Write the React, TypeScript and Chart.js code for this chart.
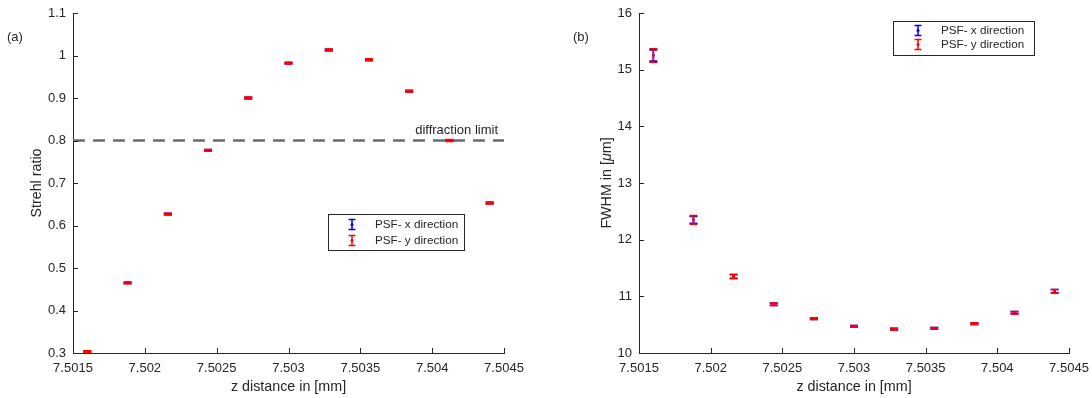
import React, { useEffect, useRef } from "react";
import { Chart, registerables } from "chart.js";

Chart.register(...registerables);

// ---------- data ----------
const zPositions = [7.5016, 7.50188, 7.50216, 7.50244, 7.50272, 7.503, 7.50328, 7.50356, 7.50384, 7.50412, 7.5044];

const strehlX = [0.303, 0.465, 0.627, 0.777, 0.9, 0.982, 1.013, 0.99, 0.916, 0.8, 0.653];
const strehlXErr = [0.0015, 0.0015, 0.0015, 0.0015, 0.0015, 0.0015, 0.0015, 0.0015, 0.0015, 0.0015, 0.0015];
const strehlY = [0.303, 0.465, 0.627, 0.777, 0.9, 0.982, 1.013, 0.99, 0.916, 0.8, 0.653];
const strehlYErr = [0.002, 0.002, 0.002, 0.002, 0.002, 0.002, 0.002, 0.002, 0.002, 0.002, 0.002];

const fwhmX = [15.25, 12.35, 11.35, 10.86, 10.605, 10.47, 10.42, 10.435, 10.52, 10.71, 11.09];
const fwhmXErr = [0.1, 0.06, 0.03, 0.02, 0.015, 0.015, 0.015, 0.015, 0.015, 0.02, 0.03];
const fwhmY = [15.25, 12.35, 11.35, 10.86, 10.605, 10.47, 10.42, 10.435, 10.52, 10.71, 11.09];
const fwhmYErr = [0.12, 0.075, 0.04, 0.02, 0.015, 0.015, 0.015, 0.015, 0.015, 0.02, 0.03];

const zTicks = [7.5015, 7.502, 7.5025, 7.503, 7.5035, 7.504, 7.5045];
const zTickLabels = ["7.5015", "7.502", "7.5025", "7.503", "7.5035", "7.504", "7.5045"];
const strehlTicks = [0.3, 0.4, 0.5, 0.6, 0.7, 0.8, 0.9, 1, 1.1];
const strehlTickLabels = ["0.3", "0.4", "0.5", "0.6", "0.7", "0.8", "0.9", "1", "1.1"];
const fwhmTicks = [10, 11, 12, 13, 14, 15, 16];
const fwhmTickLabels = ["10", "11", "12", "13", "14", "15", "16"];

const diffractionLimit = 0.8;
const legendLabels = ["PSF- x direction", "PSF- y direction"];

// ---------- style ----------
const FONT = "'Liberation Sans', Arial, Helvetica, sans-serif";
const TXT = "#262626";
const BLUE = "#0000ff";
const RED = "#ff0000";
const W = 546;
const H = 398;

const errorBarPlugin = {
  id: "errorBars",
  beforeDatasetDraw(chart: any, args: any) {
    const ds = chart.data.datasets[args.index];
    if (!ds.errors) return;
    const xs = chart.scales.x;
    const ys = chart.scales.y;
    const ctx = chart.ctx;
    ctx.save();
    ctx.strokeStyle = ds.borderColor;
    ctx.lineWidth = 1.6;
    ds.data.forEach((p: any, i: number) => {
      const e = ds.errors[i];
      const px = xs.getPixelForValue(p.x);
      const top = ys.getPixelForValue(p.y + e);
      const bot = ys.getPixelForValue(p.y - e);
      ctx.beginPath();
      ctx.moveTo(px, top);
      ctx.lineTo(px, bot);
      ctx.moveTo(px - 4, top);
      ctx.lineTo(px + 4, top);
      ctx.moveTo(px - 4, bot);
      ctx.lineTo(px + 4, bot);
      ctx.stroke();
    });
    ctx.restore();
  },
};

function drawLegend(ctx: CanvasRenderingContext2D, box: { x: number; y: number; w: number; h: number }, rows: number[], iconX: number, textX: number) {
  ctx.save();
  ctx.fillStyle = "#ffffff";
  ctx.fillRect(box.x, box.y, box.w, box.h);
  ctx.strokeStyle = TXT;
  ctx.lineWidth = 1;
  ctx.strokeRect(box.x + 0.5, box.y + 0.5, box.w, box.h);
  const colors = [BLUE, RED];
  rows.forEach((ry, i) => {
    ctx.strokeStyle = colors[i];
    ctx.lineWidth = 1.5;
    ctx.beginPath();
    ctx.moveTo(iconX, ry - 5);
    ctx.lineTo(iconX, ry + 5);
    ctx.moveTo(iconX - 3.5, ry - 5);
    ctx.lineTo(iconX + 3.5, ry - 5);
    ctx.moveTo(iconX - 3.5, ry + 5);
    ctx.lineTo(iconX + 3.5, ry + 5);
    ctx.stroke();
    ctx.fillStyle = colors[i];
    ctx.beginPath();
    ctx.arc(iconX, ry, 1.5, 0, Math.PI * 2);
    ctx.fill();
    ctx.fillStyle = TXT;
    ctx.font = `11.7px ${FONT}`;
    ctx.textBaseline = "middle";
    ctx.textAlign = "left";
    ctx.fillText(legendLabels[i], textX, ry + 0.5);
  });
  ctx.restore();
}

function inwardTicks(chart: any) {
  const ctx = chart.ctx;
  const xs = chart.scales.x;
  const ys = chart.scales.y;
  const area = chart.chartArea;
  ctx.save();
  ctx.strokeStyle = TXT;
  ctx.lineWidth = 1;
  ctx.beginPath();
  xs.ticks.forEach((t: any) => {
    const px = Math.round(xs.getPixelForValue(t.value)) + 0.5;
    ctx.moveTo(px, area.bottom);
    ctx.lineTo(px, area.bottom - 5);
  });
  ys.ticks.forEach((t: any) => {
    const py = Math.round(ys.getPixelForValue(t.value)) + 0.5;
    ctx.moveTo(area.left, py);
    ctx.lineTo(area.left + 5, py);
  });
  ctx.stroke();
  ctx.restore();
}

function makeOptions(
  yTicks: number[],
  yLabels: string[],
  yMin: number,
  yMax: number,
  yTitle: string | null,
  yWidth: number,
  paddingRight: number
) {
  return {
    responsive: false,
    animation: false as const,
    layout: { padding: { left: 0, right: paddingRight, top: 13, bottom: 0 } },
    plugins: { legend: { display: false }, tooltip: { enabled: false } },
    scales: {
      x: {
        type: "linear" as const,
        min: 7.5015,
        max: 7.5045,
        afterBuildTicks: (s: any) => {
          s.ticks = zTicks.map((v) => ({ value: v }));
        },
        afterFit: (s: any) => {
          s.height = 45;
          s.paddingLeft = 0;
          s.paddingRight = 0;
        },
        ticks: {
          callback: (_v: any, i: number) => zTickLabels[i],
          color: TXT,
          font: { family: FONT, size: 13 },
          padding: 8,
          maxRotation: 0,
          autoSkip: false,
        },
        grid: { display: false, drawTicks: false, tickLength: 0 },
        border: { display: true, color: TXT, width: 1 },
        title: {
          display: true,
          text: "z distance in [mm]",
          color: TXT,
          font: { family: FONT, size: 14.3 },
          padding: { top: 0, bottom: 2 },
        },
      },
      y: {
        type: "linear" as const,
        min: yMin,
        max: yMax,
        afterBuildTicks: (s: any) => {
          s.ticks = yTicks.map((v) => ({ value: v }));
        },
        afterFit: (s: any) => {
          s.width = yWidth;
          s.paddingTop = 0;
          s.paddingBottom = 0;
        },
        ticks: {
          callback: (_v: any, i: number) => yLabels[i],
          color: TXT,
          font: { family: FONT, size: 13 },
          padding: 7,
          autoSkip: false,
        },
        grid: { display: false, drawTicks: false, tickLength: 0 },
        border: { display: true, color: TXT, width: 1 },
        title: {
          display: !!yTitle,
          text: yTitle || "",
          color: TXT,
          font: { family: FONT, size: 14.3 },
          padding: { top: 28.4, bottom: 0 },
        },
      },
    },
  };
}

function errorDatasets(xVals: number[], xErr: number[], yVals: number[], yErr: number[]) {
  return [
    {
      type: "scatter" as const,
      label: legendLabels[1],
      data: zPositions.map((z, i) => ({ x: z, y: yVals[i] })),
      errors: yErr,
      borderColor: RED,
      backgroundColor: RED,
      pointRadius: 1.3,
      pointBorderWidth: 0,
      showLine: false,
      order: 0,
    },
    {
      type: "scatter" as const,
      label: legendLabels[0],
      data: zPositions.map((z, i) => ({ x: z, y: xVals[i] })),
      errors: xErr,
      borderColor: BLUE,
      backgroundColor: BLUE,
      pointRadius: 1.3,
      pointBorderWidth: 0,
      showLine: false,
      order: 1,
    },
  ];
}

export default function App() {
  const leftRef = useRef<HTMLCanvasElement>(null);
  const rightRef = useRef<HTMLCanvasElement>(null);

  useEffect(() => {
    const leftDecor = {
      id: "leftDecor",
      afterDraw(chart: any) {
        inwardTicks(chart);
        const ctx = chart.ctx;
        const xs = chart.scales.x;
        const ys = chart.scales.y;
        ctx.save();
        ctx.fillStyle = TXT;
        ctx.font = `13px ${FONT}`;
        ctx.textBaseline = "middle";
        ctx.textAlign = "left";
        ctx.fillText("(a)", 7, 37);
        ctx.textAlign = "right";
        ctx.textBaseline = "alphabetic";
        ctx.fillText("diffraction limit", xs.getPixelForValue(7.5045) - 6, ys.getPixelForValue(diffractionLimit) - 7);
        ctx.restore();
        drawLegend(ctx, { x: 328, y: 214, w: 136, h: 36 }, [224.5, 240.5], 352, 375);
      },
    };

    const rightDecor = {
      id: "rightDecor",
      afterDraw(chart: any) {
        inwardTicks(chart);
        const ctx = chart.ctx;
        ctx.save();
        ctx.fillStyle = TXT;
        ctx.font = `13px ${FONT}`;
        ctx.textBaseline = "middle";
        ctx.textAlign = "left";
        ctx.fillText("(b)", 27, 37);
        // y-axis title with italic mu
        const area = chart.chartArea;
        const cy = (area.top + area.bottom) / 2;
        ctx.translate(61, cy);
        ctx.rotate(-Math.PI / 2);
        const parts: [string, string][] = [
          ["FWHM in [", `14.3px ${FONT}`],
          ["\u03bc", `italic 14.3px ${FONT}`],
          ["m]", `14.3px ${FONT}`],
        ];
        let total = 0;
        parts.forEach(([t, f]) => {
          ctx.font = f;
          total += ctx.measureText(t).width;
        });
        let x = -total / 2;
        parts.forEach(([t, f]) => {
          ctx.font = f;
          ctx.fillText(t, x, 0);
          x += ctx.measureText(t).width;
        });
        ctx.restore();
        drawLegend(chart.ctx, { x: 893 - W, y: 21, w: 141, h: 34 }, [30.5, 44.5], 918 - W, 941 - W);
      },
    };

    const leftChart = new Chart(leftRef.current as HTMLCanvasElement, {
      type: "scatter",
      data: {
        datasets: [
          ...errorDatasets(strehlX, strehlXErr, strehlY, strehlYErr),
          {
            type: "line" as const,
            label: "diffraction limit",
            data: [
              { x: 7.5015, y: diffractionLimit },
              { x: 7.5045, y: diffractionLimit },
            ],
            borderColor: "#6b6b6b",
            borderWidth: 2.5,
            borderDash: [12, 8],
            pointRadius: 0,
            fill: false,
            order: 2,
          } as any,
        ],
      },
      options: makeOptions(strehlTicks, strehlTickLabels, 0.3, 1.1, "Strehl ratio", 73, 42) as any,
      plugins: [errorBarPlugin, leftDecor],
    });

    const rightChart = new Chart(rightRef.current as HTMLCanvasElement, {
      type: "scatter",
      data: { datasets: errorDatasets(fwhmX, fwhmXErr, fwhmY, fwhmYErr) as any },
      options: makeOptions(fwhmTicks, fwhmTickLabels, 10, 16, null, 93, 23) as any,
      plugins: [errorBarPlugin, rightDecor],
    });

    return () => {
      leftChart.destroy();
      rightChart.destroy();
    };
  }, []);

  return (
    <div style={{ position: "absolute", left: 0, top: 0, width: 1092, height: 398, background: "#ffffff" }}>
      <canvas ref={leftRef} width={W} height={H} style={{ position: "absolute", left: 0, top: 0, width: W, height: H }} />
      <canvas ref={rightRef} width={W} height={H} style={{ position: "absolute", left: W, top: 0, width: W, height: H }} />
    </div>
  );
}
